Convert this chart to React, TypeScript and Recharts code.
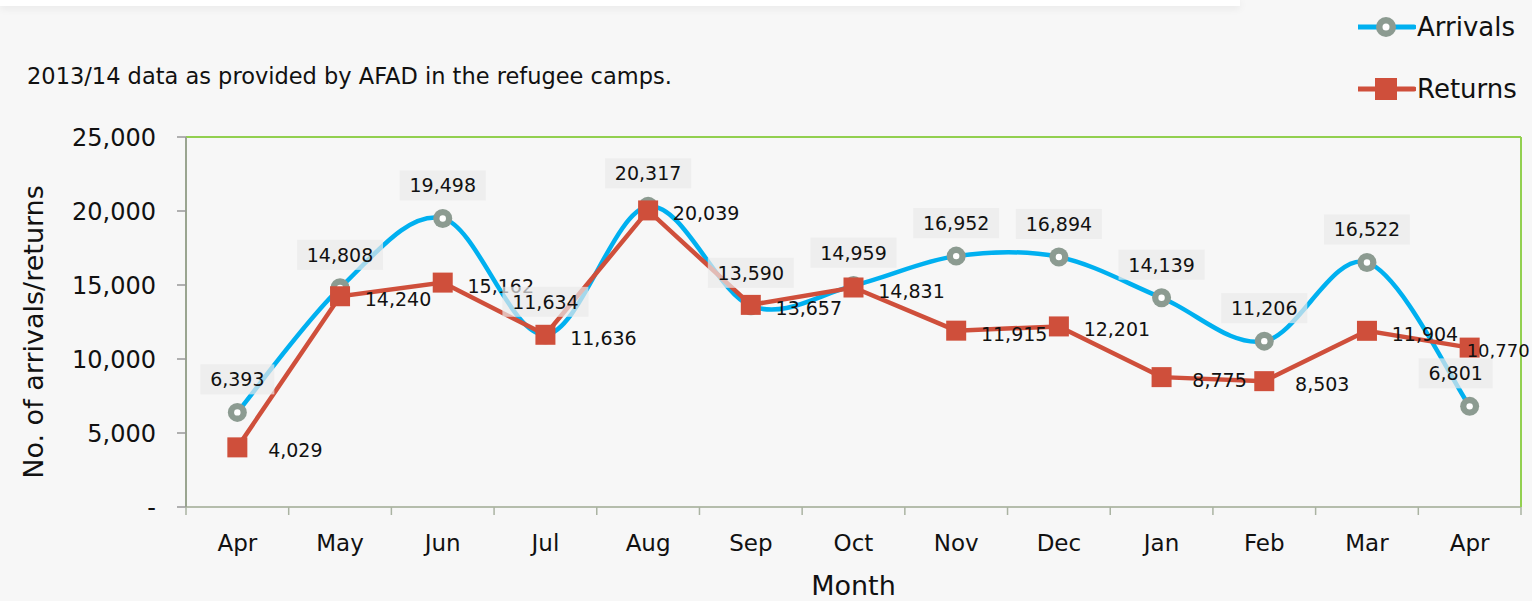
import React from 'react';
import { LineChart, Line, XAxis, YAxis, ReferenceLine, LabelList, Label } from 'recharts';

const months = ['Apr', 'May', 'Jun', 'Jul', 'Aug', 'Sep', 'Oct', 'Nov', 'Dec', 'Jan', 'Feb', 'Mar', 'Apr'];
const arrivals = [6393, 14808, 19498, 11634, 20317, 13590, 14959, 16952, 16894, 14139, 11206, 16522, 6801];
const returns = [4029, 14240, 15162, 11636, 20039, 13657, 14831, 11915, 12201, 8775, 8503, 11904, 10770];
const yTicks = [0, 5000, 10000, 15000, 20000, 25000];

const data = months.map((m, i) => ({ month: m, arrivals: arrivals[i], returns: returns[i] }));

const FONT = '"DejaVu Sans", "Liberation Sans", sans-serif';
const BLUE = '#00b0f0';
const RED = '#cf4f3b';
const RING = '#8c9b91';
const GREEN = '#92d050';

const CHART_W = 1532;
const Y_W = 186;
const RIGHT_M = 10;
const HALF_BAND = (CHART_W - Y_W - RIGHT_M - 1) / months.length / 2;

const fmt = (v: number) => v.toLocaleString('en-US');

// Excel-like smoothing (Catmull-Rom style Bezier)
function excelCurve(context: any) {
  let pts: number[][] = [];
  return {
    areaStart() {},
    areaEnd() {},
    lineStart() { pts = []; },
    point(x: number, y: number) { pts.push([+x, +y]); },
    lineEnd() {
      const n = pts.length;
      if (!n) return;
      context.moveTo(pts[0][0], pts[0][1]);
      for (let i = 0; i < n - 1; i++) {
        const p0 = pts[Math.max(i - 1, 0)];
        const p1 = pts[i];
        const p2 = pts[i + 1];
        const p3 = pts[Math.min(i + 2, n - 1)];
        const c1x = p1[0] + (p2[0] - p0[0]) / 6;
        const c1y = p1[1] + (p2[1] - p0[1]) / 6;
        const c2x = p2[0] - (p3[0] - p1[0]) / 6;
        const c2y = p2[1] - (p3[1] - p1[1]) / 6;
        context.bezierCurveTo(c1x, c1y, c2x, c2y, p2[0], p2[1]);
      }
    },
  };
}

const ArrivalDot = (p: any) => {
  if (p.cx == null || p.cy == null) return null;
  return (
    <g key={`ad-${p.index}`}>
      <circle cx={p.cx} cy={p.cy} r={9.5} fill={RING} />
      <circle cx={p.cx} cy={p.cy} r={3.2} fill="#ffffff" />
    </g>
  );
};

const ReturnDot = (p: any) => {
  if (p.cx == null || p.cy == null) return null;
  return <rect key={`rd-${p.index}`} x={p.cx - 10} y={p.cy - 10} width={20} height={20} fill={RED} />;
};

const ArrivalLabel = (p: any) => {
  const { x, y, value, index } = p;
  if (x == null || y == null) return null;
  const txt = fmt(Number(value));
  const w = txt.length * 12 + 14;
  const dx = index === arrivals.length - 1 ? -14 : 0;
  const cx = x + dx;
  const cy = y - 33;
  return (
    <g>
      <rect x={cx - w / 2} y={cy - 15} width={w} height={30} fill="#e9e9e9" fillOpacity={0.7} />
      <text x={cx} y={cy} textAnchor="middle" dominantBaseline="central" fontFamily={FONT} fontSize={19} fill="#111">
        {txt}
      </text>
    </g>
  );
};

const ReturnLabel = (p: any) => {
  const { x, y, value, index } = p;
  if (x == null || y == null) return null;
  const last = index === returns.length - 1;
  return (
    <text
      x={last ? x - 3 : x + 58}
      y={y + 3}
      textAnchor={last ? 'start' : 'middle'}
      dominantBaseline="central"
      fontFamily={FONT}
      fontSize={last ? 18 : 19}
      fill="#111"
    >
      {fmt(Number(value))}
    </text>
  );
};

const XTick = (p: any) => {
  const { x, y, payload, index } = p;
  const off = HALF_BAND;
  const axisY = y - 8;
  return (
    <g>
      <line x1={x - off} x2={x - off} y1={axisY} y2={axisY + 8} stroke="#aab3a2" strokeWidth={1.5} />
      {index === months.length - 1 && (
        <line x1={x + off} x2={x + off} y1={axisY} y2={axisY + 8} stroke="#aab3a2" strokeWidth={1.5} />
      )}
      <text x={x} y={axisY + 36} textAnchor="middle" dominantBaseline="central" fontFamily={FONT} fontSize={23} fill="#111">
        {payload.value}
      </text>
    </g>
  );
};

const LegendItem = ({ kind, label }: { kind: 'a' | 'r'; label: string }) => (
  <div style={{ display: 'flex', alignItems: 'center', height: 40 }}>
    <svg width={58} height={30}>
      <line x1={0} x2={56} y1={15} y2={15} stroke={kind === 'a' ? BLUE : RED} strokeWidth={5} strokeLinecap="round" />
      {kind === 'a' ? (
        <g>
          <circle cx={28} cy={15} r={10} fill={RING} />
          <circle cx={28} cy={15} r={3.5} fill="#fff" />
        </g>
      ) : (
        <rect x={17} y={4} width={22} height={22} fill={RED} />
      )}
    </svg>
    <span style={{ fontFamily: FONT, fontSize: 26, color: '#111', marginLeft: 1 }}>{label}</span>
  </div>
);

export default function App() {
  return (
    <div style={{ position: 'absolute', left: 0, top: 0, width: 1532, height: 601, background: '#f7f7f7', overflow: 'hidden' }}>
      <div style={{ position: 'absolute', left: 0, top: 0, width: 1240, height: 6, background: '#ffffff', boxShadow: '0 2px 8px rgba(0,0,0,0.08)' }} />
      <div style={{ position: 'absolute', left: 27, top: 63, fontFamily: FONT, fontSize: 22.5, color: '#111', whiteSpace: 'nowrap' }}>
        2013/14 data as provided by AFAD in the refugee camps.
      </div>
      <div style={{ position: 'absolute', left: 1358, top: 7 }}>
        <LegendItem kind="a" label="Arrivals" />
        <div style={{ height: 22 }} />
        <LegendItem kind="r" label="Returns" />
      </div>
      <div style={{ position: 'absolute', left: 0, top: 0 }}>
        <LineChart width={CHART_W} height={601} data={data} margin={{ top: 137, right: RIGHT_M, bottom: 0, left: 0 }}>
          <XAxis
            dataKey="month"
            height={94}
            tick={<XTick />}
            tickLine={false}
            tickSize={8}
            tickMargin={0}
            interval={0}
            padding={{ left: HALF_BAND, right: HALF_BAND }}
            axisLine={{ stroke: '#b5bdac', strokeWidth: 2 }}
          >
            <Label
              content={(props: any) => {
                const vb = props.viewBox || { x: 186, y: 507, width: 1335, height: 94 };
                return (
                  <text x={vb.x + vb.width / 2} y={vb.y + 78} textAnchor="middle" dominantBaseline="central" fontFamily={FONT} fontSize={27} fill="#111">
                    Month
                  </text>
                );
              }}
            />
          </XAxis>
          <YAxis
            width={Y_W}
            domain={[0, 25000]}
            ticks={yTicks}
            tickFormatter={(v: number) => (v === 0 ? '-' : fmt(v))}
            tick={{ fontFamily: FONT, fontSize: 24, fill: '#111' }}
            tickSize={9}
            tickMargin={21}
            tickLine={{ stroke: '#999', strokeWidth: 1.5 }}
            axisLine={{ stroke: '#9aa590', strokeWidth: 2 }}
          >
            <Label
              content={(props: any) => {
                const vb = props.viewBox || { x: 0, y: 137, width: 186, height: 370 };
                const cx = vb.x + 33;
                const cy = vb.y + vb.height / 2 + 10;
                return (
                  <text x={cx} y={cy} transform={`rotate(-90, ${cx}, ${cy})`} textAnchor="middle" dominantBaseline="central" fontFamily={FONT} fontSize={27} fill="#111">
                    No. of arrivals/returns
                  </text>
                );
              }}
            />
          </YAxis>
          <YAxis yAxisId="right" orientation="right" width={1} domain={[0, 25000]} tick={false} tickLine={false} axisLine={{ stroke: GREEN, strokeWidth: 2 }} />
          <ReferenceLine y={25000} stroke={GREEN} strokeWidth={2} />
          <Line
            dataKey="arrivals"
            type={excelCurve as any}
            stroke={BLUE}
            strokeWidth={4.5}
            dot={<ArrivalDot />}
            activeDot={false}
            isAnimationActive={false}
          />
          <Line
            dataKey="returns"
            type="linear"
            stroke={RED}
            strokeWidth={4.5}
            dot={<ReturnDot />}
            activeDot={false}
            isAnimationActive={false}
          >
            <LabelList dataKey="returns" content={<ReturnLabel />} />
          </Line>
          <Line
            dataKey="arrivals"
            type="linear"
            stroke="none"
            dot={false}
            activeDot={false}
            legendType="none"
            isAnimationActive={false}
          >
            <LabelList dataKey="arrivals" content={<ArrivalLabel />} />
          </Line>
        </LineChart>
      </div>
    </div>
  );
}
